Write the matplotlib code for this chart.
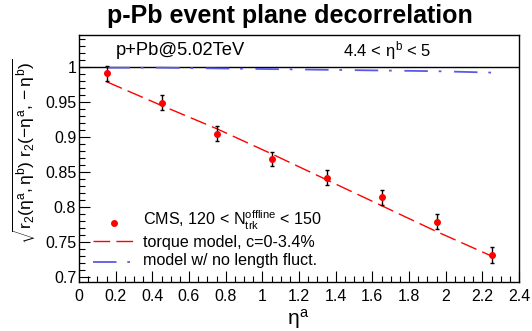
import matplotlib
matplotlib.use("Agg")
import matplotlib.pyplot as plt
from matplotlib.ticker import MultipleLocator

plt.rcParams['font.family'] = ['Liberation Sans', 'DejaVu Sans']
plt.rcParams['mathtext.fontset'] = 'custom'
plt.rcParams['mathtext.rm'] = 'Liberation Sans'
plt.rcParams['mathtext.it'] = 'Liberation Sans'
plt.rcParams['mathtext.bf'] = 'Liberation Sans:bold'
plt.rcParams['mathtext.sf'] = 'Liberation Sans'

# Data
eta_a = [0.15, 0.45, 0.75, 1.05, 1.35, 1.65, 1.95, 2.25]
cms_vals = [0.991, 0.949, 0.905, 0.868, 0.842, 0.814, 0.779, 0.731]
cms_errs = [0.0105, 0.011, 0.0105, 0.01, 0.0105, 0.011, 0.0105, 0.0115]
torque_vals = [0.979, 0.945, 0.912, 0.876, 0.839, 0.802, 0.765, 0.730]
nofluct_vals = [0.999, 0.999, 0.998, 0.997, 0.996, 0.995, 0.994, 0.992]

red = '#ff0000'
blue = '#5a5ae6'
torque_dash = (12, 4.5)
nof_dash = (13, 6, 1.5, 7)

fig = plt.figure(figsize=(5.32, 3.31), dpi=100)
ax = fig.add_axes([79/532, 1-282/331, 440/532, 247/331])

ax.axhline(1.0, color='black', lw=1.0, zorder=1)

ax.plot(eta_a, torque_vals, color=red, lw=1.0, dashes=torque_dash, zorder=2)
ax.plot(eta_a, nofluct_vals, color=blue, lw=1.3, dashes=nof_dash, zorder=2)
ax.errorbar(eta_a, cms_vals, yerr=cms_errs, fmt='o', color=red, ms=4,
            ecolor='black', elinewidth=1.0, capsize=1.5, capthick=1.0, zorder=3)

ax.set_xlim(0, 2.4)
ax.set_ylim(0.6929, 1.0457)
ax.xaxis.set_minor_locator(MultipleLocator(0.05))
ax.yaxis.set_minor_locator(MultipleLocator(0.01))
xt = [0, 0.2, 0.4, 0.6, 0.8, 1, 1.2, 1.4, 1.6, 1.8, 2, 2.2, 2.4]
xtl = ['0', '0.2', '0.4', '0.6', '0.8', '1', '1.2', '1.4', '1.6', '1.8', '2', '2.2', '2.4']
ax.set_xticks(xt)
ax.set_xticklabels(xtl)
yt = [0.7, 0.75, 0.8, 0.85, 0.9, 0.95, 1.0]
ytl = ['0.7', '0.75', '0.8', '0.85', '0.9', '0.95', '1']
ax.set_yticks(yt)
ax.set_yticklabels(ytl)
ax.tick_params(axis='both', which='major', direction='in', length=8, width=0.8,
               labelsize=11.5, top=False, right=False)
ax.tick_params(axis='both', which='minor', direction='in', length=4, width=0.8,
               top=False, right=False)
ax.tick_params(axis='x', pad=5)
ax.tick_params(axis='y', pad=2)
for s in ax.spines.values():
    s.set_linewidth(1.0)

ax.text(0.2, 1.023, 'p+Pb@5.02TeV', fontsize=13.2, va='center', ha='left')
ax.text(1.44, 1.023, r'4.4 < $\eta^{\rm b}$ < 5', fontsize=12, va='center', ha='left')

fig.text(290/532, 1-16/331, 'p-Pb event plane decorrelation', fontsize=18,
         fontweight='bold', ha='center', va='center')
fig.text(298/532, 1-319/331, r'$\eta^{\rm a}$', fontsize=15, ha='center', va='center')
fig.text(24/532, 1-151/331,
         r'$\sqrt{\mathrm{r}_2(\eta^{\rm a},\eta^{\rm b})\ \mathrm{r}_2(-\eta^{\rm a},-\eta^{\rm b})}$',
         fontsize=12.5, rotation=90, ha='center', va='center')

# Legend (manual layout, figure pixel positions)
def fx(px):
    return px / 532
def fy(py):
    return 1 - py / 331

fig.lines.append(plt.Line2D([fx(114)], [fy(223)], marker='o', ms=4, color=red,
                            linestyle='none', transform=fig.transFigure))
fig.lines.append(plt.Line2D([fx(93), fx(135)], [fy(241), fy(241)], color=red,
                            lw=1.0, dashes=torque_dash, transform=fig.transFigure))
fig.lines.append(plt.Line2D([fx(93), fx(135)], [fy(262), fy(262)], color=blue,
                            lw=1.3, dashes=nof_dash, transform=fig.transFigure))
fig.text(fx(143), fy(220), r'CMS, 120 < N$_{\rm trk}^{\rm offline}$ < 150',
         fontsize=11.6, ha='left', va='center')
fig.text(fx(143), fy(242), 'torque model, c=0-3.4%', fontsize=11.6,
         ha='left', va='center')
fig.text(fx(143), fy(261), 'model w/ no length fluct.', fontsize=11.6,
         ha='left', va='center')

fig.savefig('out.png', dpi=100)
